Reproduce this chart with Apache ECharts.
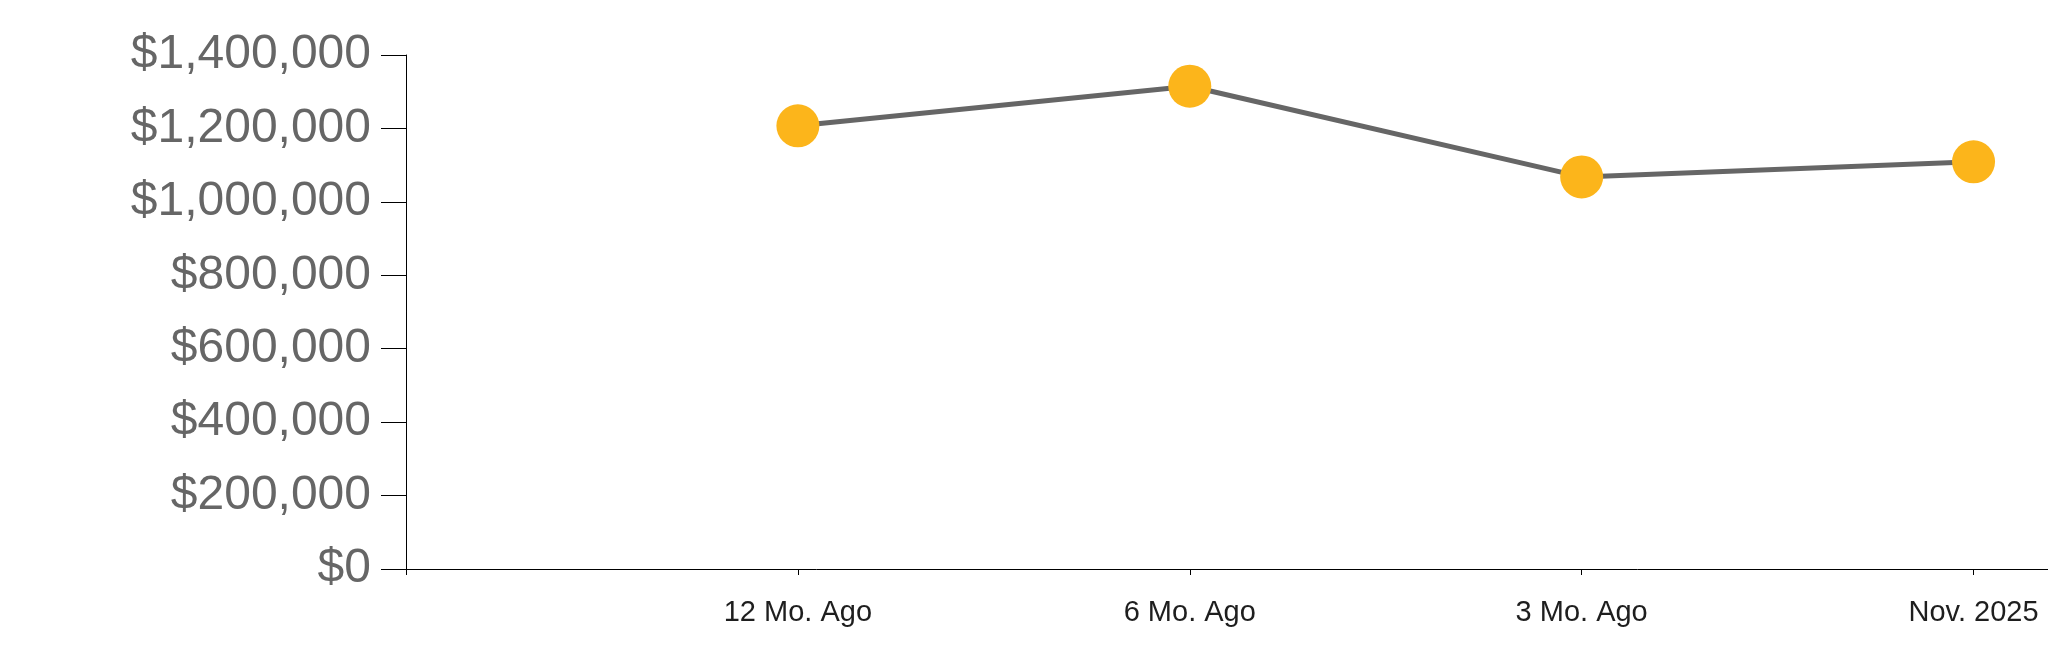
<!DOCTYPE html>
<html>
<head>
<meta charset="utf-8">
<style>
  html, body { margin: 0; padding: 0; background: #ffffff; }
  #chart { width: 2048px; height: 663px; }
</style>
<script src="https://cdn.jsdelivr.net/npm/echarts@6/dist/echarts.min.js"></script>
</head>
<body>
<div id="chart"></div>
<script>
const categories = ["12 Mo. Ago", "6 Mo. Ago", "3 Mo. Ago", "Nov. 2025"];
const values = [1207000, 1315000, 1068000, 1109000];
const yTicks = [0, 200000, 400000, 600000, 800000, 1000000, 1200000, 1400000];

const chart = echarts.init(document.getElementById('chart'), null, { renderer: 'canvas' });
const seriesData = values.map((v, i) => [i + 1, v]);
const xPositions = categories.map((c, i) => i + 1);

chart.setOption({
  animation: false,
  backgroundColor: '#ffffff',
  grid: { left: 406, right: 0, top: 55, bottom: 94, containLabel: false },
  xAxis: {
    type: 'value',
    min: 0,
    max: 4.19,
    interval: 1,
    splitLine: { show: false },
    axisLine: { show: true, lineStyle: { color: '#000000', width: 1 } },
    axisTick: { show: true, length: 6, lineStyle: { color: '#000000', width: 1 }, customValues: [0].concat(xPositions) },
    axisLabel: {
      show: true,
      customValues: xPositions,
      formatter: function (v) { return categories[Math.round(v) - 1] || ''; },
      fontFamily: 'Liberation Sans, Arial, sans-serif',
      fontSize: 29,
      color: '#1e1e1e',
      margin: 29
    }
  },
  yAxis: {
    type: 'value',
    min: yTicks[0],
    max: yTicks[yTicks.length - 1],
    interval: yTicks[1] - yTicks[0],
    splitLine: { show: false },
    axisLine: { show: true, lineStyle: { color: '#000000', width: 1 } },
    axisTick: { show: true, length: 25, lineStyle: { color: '#000000', width: 1 } },
    axisLabel: {
      fontFamily: 'Liberation Sans, Arial, sans-serif',
      fontSize: 48,
      color: '#666666',
      margin: 35,
      formatter: function (v) { return '$' + v.toLocaleString('en-US'); }
    }
  },
  series: [{
    type: 'line',
    data: seriesData,
    symbol: 'circle',
    symbolSize: 43,
    clip: false,
    lineStyle: { color: '#666666', width: 5 },
    itemStyle: { color: '#FCB51B' },
    z: 3
  }]
});
</script>
</body>
</html>
